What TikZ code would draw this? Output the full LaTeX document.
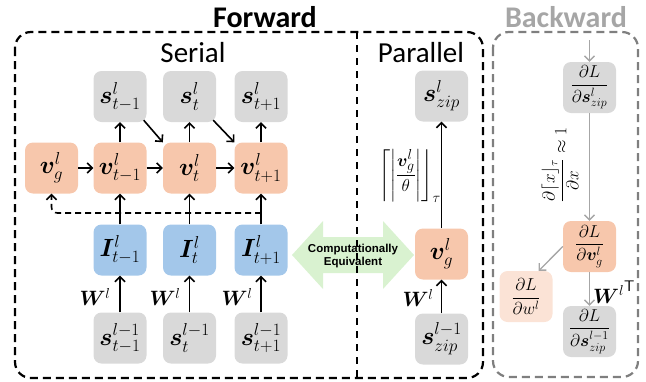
\documentclass[tikz,border=0pt]{standalone}
\usepackage{amsmath,bm}
\usepackage{fontspec}
\setmainfont{Carlito}
\newfontfamily\labelfont{Liberation Sans}
\usetikzlibrary{arrows.meta}

\definecolor{greybox}{HTML}{D9D9D9}
\definecolor{orangebox}{HTML}{F7C7AC}
\definecolor{bluebox}{HTML}{A3C7EA}
\definecolor{paleorange}{HTML}{FBE3D6}
\definecolor{greenarrow}{HTML}{D9F2D0}
\definecolor{backgrey}{HTML}{7F7F7F}
\definecolor{lightline}{HTML}{A6A6A6}

\tikzset{
  box/.style={rounded corners=8pt, minimum width=53pt, minimum height=51pt,
              inner sep=0pt, font=\fontsize{23}{25}\selectfont},
  gbox/.style={box, fill=greybox},
  obox/.style={box, fill=orangebox},
  bbox/.style={box, fill=bluebox},
  pbox/.style={box, fill=paleorange},
  fbox/.style={box, font=\fontsize{16.5}{18}\selectfont},
  arr/.style={-{Straight Barb[length=5pt,width=10pt,line width=1.6pt]}, line width=1.6pt},
  barr/.style={-{Straight Barb[length=5pt,width=10pt,line width=1.3pt]}, line width=1.3pt, draw=lightline},
  wlabel/.style={font=\fontsize{22}{24}\selectfont},
  title/.style={font=\fontsize{30}{32}\selectfont\bfseries},
  subtitle/.style={font=\fontsize{29}{31}\selectfont},
}

\begin{document}
\begin{tikzpicture}[x=1pt,y=-1pt]
\useasboundingbox (0,0) rectangle (646,381);

% equivalence arrow between the two forward variants
\fill[greenarrow] (292,255) -- (323,221) -- (323,237) -- (383,237) -- (383,221)
  -- (414,255) -- (383,289) -- (383,273) -- (323,273) -- (323,289) -- cycle;

% frames
\draw[line width=2.2pt, dash pattern=on 8pt off 5pt, rounded corners=16pt]
  (15,32) rectangle (483,378);
\draw[line width=1.7pt, dash pattern=on 7pt off 6pt] (357,32) -- (357,378);
\draw[backgrey, line width=2.2pt, dash pattern=on 8pt off 5pt, rounded corners=16pt]
  (493,32) rectangle (638,377);

\node[title] (fwd) at (265,17) {Forward};
\node[title, text=lightline] (bwd) at (566,17) {Backward};
\node[subtitle] (serial) at (193,53) {Serial};
\node[subtitle] (parallel) at (421,53) {Parallel};

\node[font=\labelfont\bfseries\fontsize{11.5}{13.5}\selectfont, align=center] (equiv) at (353,256)
  {Computationally\\Equivalent};

% serial: outputs
\node[gbox] (s1) at (120,96.5) {$\bm{s}^{l}_{t-1}$};
\node[gbox] (s2) at (189.5,96.5) {$\bm{s}^{l}_{t}$};
\node[gbox] (s3) at (261,96.5) {$\bm{s}^{l}_{t+1}$};
% serial: membrane potentials
\node[obox] (vg) at (51.5,168) {$\bm{v}^{l}_{g}$};
\node[obox] (v1) at (120,168) {$\bm{v}^{l}_{t-1}$};
\node[obox] (v2) at (189.5,168) {$\bm{v}^{l}_{t}$};
\node[obox] (v3) at (261,168) {$\bm{v}^{l}_{t+1}$};
% serial: input currents
\node[bbox] (i1) at (120,250) {$\bm{I}^{l}_{t-1}$};
\node[bbox] (i2) at (189.5,250) {$\bm{I}^{l}_{t}$};
\node[bbox] (i3) at (261,250) {$\bm{I}^{l}_{t+1}$};
% serial: inputs
\node[gbox] (x1) at (120,338) {$\bm{s}^{l-1}_{t-1}$};
\node[gbox] (x2) at (189.5,338) {$\bm{s}^{l-1}_{t}$};
\node[gbox] (x3) at (261,338) {$\bm{s}^{l-1}_{t+1}$};

\foreach \k in {1,2,3}{
  \draw[arr] (x\k) -- (i\k);
  \draw[arr] (i\k) -- (v\k);
  \draw[arr] (v\k) -- (s\k);
}
\draw[arr] (vg) -- (v1);
\draw[arr] (v1) -- (v2);
\draw[arr] (v2) -- (v3);
\draw[arr] ([shift={(-3,-2)}]s1.south east) -- (v2.north west);
\draw[arr] ([shift={(-3,-2)}]s2.south east) -- (v3.north west);

\coordinate (fb) at (261,213);
\draw[arr, dash pattern=on 6pt off 4pt, rounded corners=6pt]
  (fb) -- (vg.south |- fb) -- (vg.south);

\node[wlabel] (w1) at (95,297) {$\bm{W}^{l}$};
\node[wlabel] (w2) at (165,297) {$\bm{W}^{l}$};
\node[wlabel] (w3) at (237,297) {$\bm{W}^{l}$};

% parallel
\node[gbox] (sz) at (441.5,96) {$\bm{s}^{l}_{zip}$};
\node[obox] (pv) at (441.5,254) {$\bm{v}^{l}_{g}$};
\node[gbox] (xz) at (441.5,339) {$\bm{s}^{l-1}_{zip}$};
\draw[arr] (xz) -- (pv);
\draw[arr] (pv) -- (sz);
\node[wlabel] (pw) at (418,298) {$\bm{W}^{l}$};
\node[font=\fontsize{19}{22}\selectfont, inner sep=1pt] (spk) at (410,176)
  {$\Biggl\lceil\Biggl|\dfrac{\bm{v}^{l}_{g}}{\theta}\Biggr|\Biggr\rfloor_{\tau}$};

% backward
\coordinate (gin) at (589.5,40);
\node[fbox, fill=greybox] (ds) at (589.5,87.5) {$\dfrac{\partial L}{\partial \bm{s}^{l}_{zip}}$};
\node[fbox, fill=orangebox] (dv) at (589.5,246.5) {$\dfrac{\partial L}{\partial \bm{v}^{l}_{g}}$};
\node[fbox, fill=paleorange] (dw) at (526,296.5) {$\dfrac{\partial L}{\partial w^{l}}$};
\node[fbox, fill=greybox] (dx) at (589.5,331.5) {$\dfrac{\partial L}{\partial \bm{s}^{l-1}_{zip}}$};
\draw[barr] (gin) -- (ds);
\draw[barr] (ds) -- (dv);
\draw[barr] (dv) -- (dx);
\draw[barr] (dv.west) -- ([xshift=-14pt]dw.north east);
\node[rotate=90, font=\fontsize{18}{20}\selectfont] (ste) at (560,165)
  {$\dfrac{\partial\lceil x\rfloor_{\tau}}{\partial x}\approx 1$};
\node[font=\fontsize{22}{24}\selectfont, inner sep=0pt] (wt) at (614,292) {${\bm{W}^{l}}^{\mathsf{T}}$};
\end{tikzpicture}
\end{document}
